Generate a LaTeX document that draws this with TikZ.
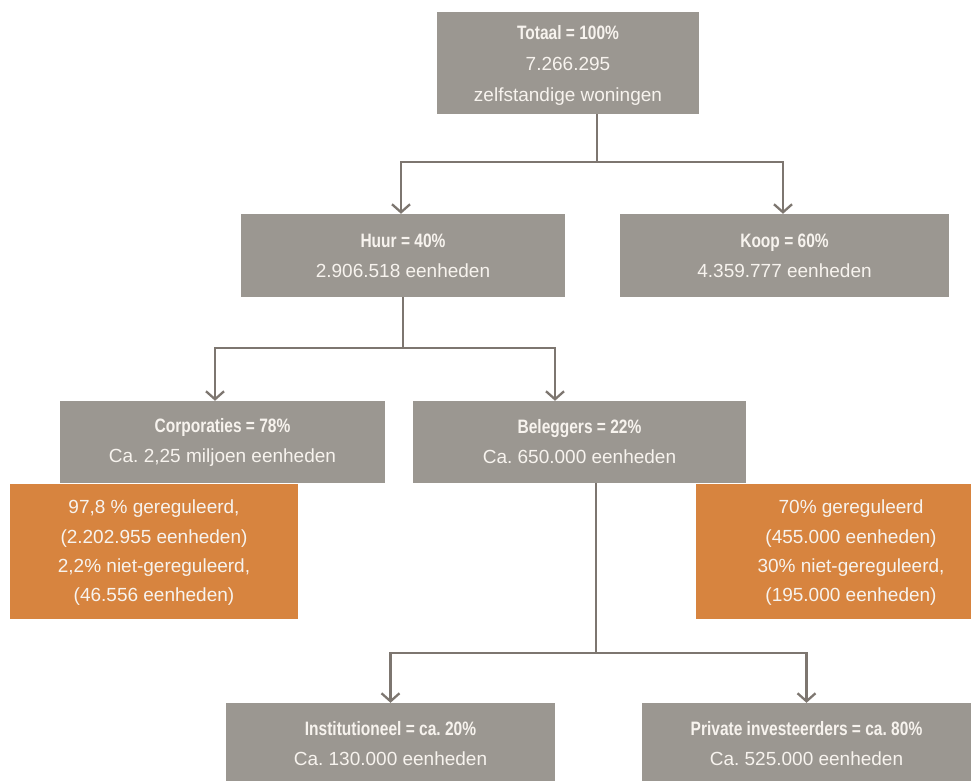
\documentclass[tikz,border=0pt]{standalone}
\usepackage{fontspec}
\setmainfont{Liberation Sans}
\newfontfamily\titlefont[FakeStretch=0.8]{Liberation Sans Bold}
\usetikzlibrary{arrows.meta}
\definecolor{boxgray}{HTML}{9B9791}
\definecolor{linegray}{HTML}{7D7670}
\definecolor{boxorange}{HTML}{D7843F}
\definecolor{txt}{HTML}{F7F3EE}
\newcommand{\ttl}[1]{{\titlefont\fontsize{19.4}{30}\selectfont #1}}
\frenchspacing
\begin{document}
\frenchspacing
\begin{tikzpicture}[x=1pt,y=-1pt,
  graybox/.style={fill=boxgray, draw=none, inner sep=0pt, align=center, text=txt,
    font=\fontsize{19}{30}\selectfont},
  orangebox/.style={fill=boxorange, draw=none, inner sep=0pt},
  otext/.style={inner sep=0pt, align=center, text=txt, font=\fontsize{19}{29.3}\selectfont},
  btext/.style={inner sep=0pt, align=center, text=txt, font=\fontsize{19}{30}\selectfont},
  conn/.style={draw=linegray, line width=2.3pt},
  arr/.style={conn, -{Straight Barb[length=8pt,width=18pt]}}]
\useasboundingbox (0,0) rectangle (971,781);

% boxes
\node[graybox, minimum width=262pt, minimum height=102pt] (tot) at (568,63) {};
\node[btext, font=\fontsize{19}{31}\selectfont] (tott) at (568,65)
  {\ttl{Totaal = 100\%}\\7.266.295\\zelfstandige woningen};
\node[graybox, minimum width=324pt, minimum height=83pt] (huur) at (403,255.5)
  {\ttl{Huur = 40\%}\\2.906.518 eenheden};
\node[graybox, minimum width=329pt, minimum height=83pt] (koop) at (784.5,255.5)
  {\ttl{Koop = 60\%}\\4.359.777 eenheden};
\node[graybox, minimum width=325pt, minimum height=82pt] (corp) at (222.5,442)
  {\ttl{Corporaties = 78\%}\\Ca. 2,25 miljoen eenheden};
\node[graybox, minimum width=333pt, minimum height=82pt] (bel) at (579.5,442)
  {\ttl{Beleggers = 22\%}\\Ca. 650.000 eenheden};
\node[orangebox, minimum width=288pt, minimum height=135pt] (orl) at (154,551) {};
\node[otext] (orlt) at (154,553)
  {97,8 \% gereguleerd,\\(2.202.955 eenheden)\\2,2\% niet-gereguleerd,\\(46.556 eenheden)};
\node[orangebox, minimum width=275pt, minimum height=135pt] (orr) at (833,551) {};
\node[otext] (orrt) at (851,553)
  {70\% gereguleerd\\(455.000 eenheden)\\30\% niet-gereguleerd,\\(195.000 eenheden)};
\node[graybox, minimum width=329pt, minimum height=78pt] (inst) at (390.5,742) {};
\node[btext] (instt) at (390.5,744)
  {\ttl{Institutioneel = ca. 20\%}\\Ca. 130.000 eenheden};
\node[graybox, minimum width=329pt, minimum height=78pt] (priv) at (806.5,742) {};
\node[btext] (privt) at (806.5,744)
  {\ttl{Private investeerders = ca. 80\%}\\Ca. 525.000 eenheden};

% connectors
\coordinate (j1) at (597,162);
\draw[conn] (tot.south -| j1) -- (j1);
\draw[arr] (j1) -| ([xshift=-2pt]huur.north);
\draw[arr] (j1) -| ([xshift=-1.5pt]koop.north);

\coordinate (j2) at (403,348);
\draw[conn] (huur.south) -- (j2);
\draw[arr] (j2) -| ([xshift=-7.5pt]corp.north);
\draw[arr] (j2) -| ([xshift=-24.5pt]bel.north);

\coordinate (j3) at (596,653);
\draw[conn] (bel.south -| j3) -- (j3);
\draw[arr] (j3) -| (inst.north);
\draw[arr] (j3) -| (priv.north);
\end{tikzpicture}
\end{document}
